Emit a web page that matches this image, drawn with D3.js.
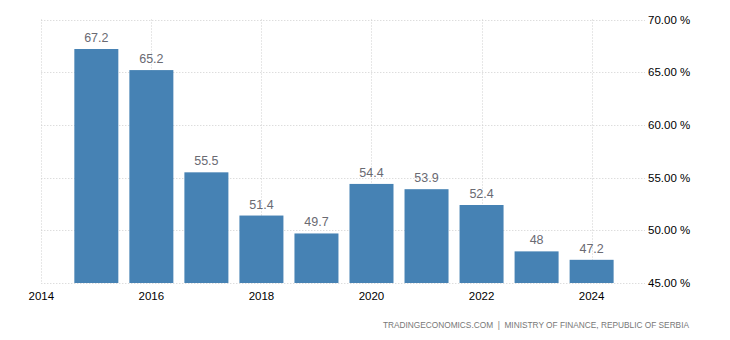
<!DOCTYPE html>
<html><head><meta charset="utf-8">
<script src="https://cdn.jsdelivr.net/npm/d3@7"></script>
<style>
body{margin:0;background:#fff;}
svg{display:block;font-family:"Liberation Sans",Arial,sans-serif;}
</style></head>
<body><svg id="c" width="730" height="340"></svg>
<script>
const years = [2015,2016,2017,2018,2019,2020,2021,2022,2023,2024];
const values = [67.2,65.2,55.5,51.4,49.7,54.4,53.9,52.4,48,47.2];
const valueLabels = ["67.2","65.2","55.5","51.4","49.7","54.4","53.9","52.4","48","47.2"];
const yTicks = [45,50,55,60,65,70];
const xTicks = [2014,2016,2018,2020,2022,2024];
const source = "TRADINGECONOMICS.COM  |  MINISTRY OF FINANCE, REPUBLIC OF SERBIA";

const svg = d3.select("#c");
const x = d3.scaleLinear().domain([2014, 2024.97]).range([41.3, 645]);
const y = d3.scaleLinear().domain([45, 70]).range([283, 19.5]);
const bw = 44;

// grid
const grid = svg.append("g");
grid.selectAll("line.h").data(yTicks).enter().append("line")
  .attr("x1", x(2014)).attr("x2", 645)
  .attr("y1", d => Math.round(y(d)) + 0.5).attr("y2", d => Math.round(y(d)) + 0.5)
  .attr("stroke", "#cfcfcf").attr("stroke-dasharray", "1,2");
grid.selectAll("line.v").data(xTicks).enter().append("line")
  .attr("x1", d => Math.round(x(d)) + 0.5).attr("x2", d => Math.round(x(d)) + 0.5)
  .attr("y1", y(70)).attr("y2", y(45))
  .attr("stroke", "#cfcfcf").attr("stroke-dasharray", "1,2");

// bars
svg.append("g").selectAll("rect").data(years).enter().append("rect")
  .attr("x", (d) => x(d) - bw / 2)
  .attr("width", bw)
  .attr("y", (d, i) => y(values[i]))
  .attr("height", (d, i) => y(45) - y(values[i]))
  .attr("fill", "#4682b4");

// value labels
svg.append("g").selectAll("text").data(years).enter().append("text")
  .attr("x", d => x(d))
  .attr("y", (d, i) => y(values[i]) - 7)
  .attr("text-anchor", "middle")
  .attr("font-size", 12.5)
  .attr("fill", "#6a6a72")
  .text((d, i) => valueLabels[i]);

// right axis labels
svg.append("g").selectAll("text").data(yTicks).enter().append("text")
  .attr("x", 648)
  .attr("y", d => y(d) + 4)
  .attr("font-size", 11.5)
  .attr("fill", "#000")
  .text(d => d3.format(".2f")(d) + " %");

// x labels
svg.append("g").selectAll("text").data(xTicks).enter().append("text")
  .attr("x", d => x(d))
  .attr("y", 300)
  .attr("text-anchor", "middle")
  .attr("font-size", 11.5)
  .attr("fill", "#000")
  .text(d => d);

svg.append("text")
  .attr("x", 689).attr("y", 328)
  .attr("text-anchor", "end")
  .attr("font-size", 8.3)
  .attr("fill", "#777")
  .style("white-space", "pre")
  .text(source);
</script></body></html>
